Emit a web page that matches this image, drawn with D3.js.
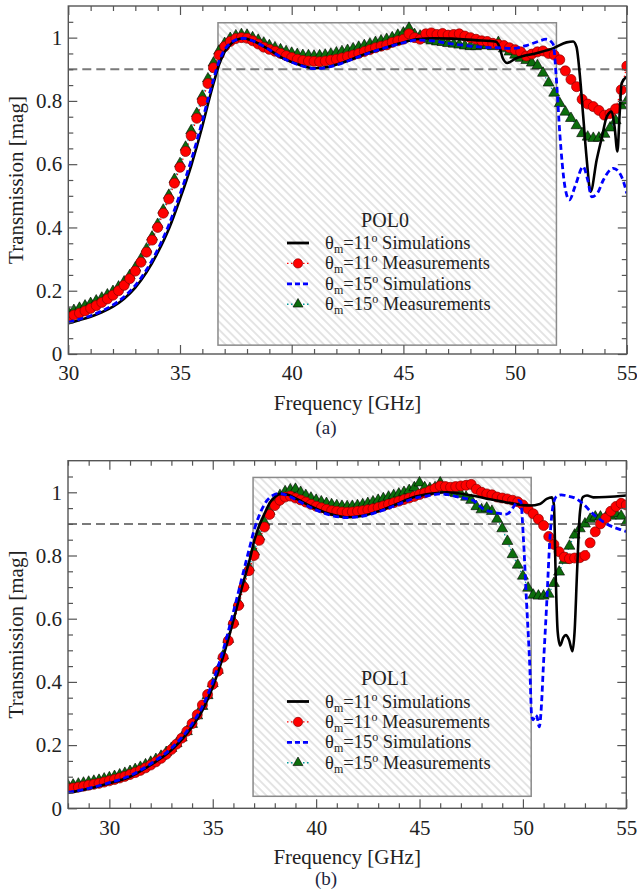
<!DOCTYPE html>
<html>
<head>
<meta charset="utf-8">
<script src="https://cdn.jsdelivr.net/npm/d3@7"></script>
<style>
  body { margin: 0; background: #fff; }
  svg { display: block; }
</style>
</head>
<body>
<svg id="chart"></svg>
<script>
// ---- data ----
const legendAngles = ['11', '11', '15', '15'];
const legendKinds = ['Simulations', 'Measurements', 'Simulations', 'Measurements'];
const yMajorTicks = [0, 0.2, 0.4, 0.6, 0.8, 1];
const threshold = 0.9;

// (a) POL0
const xTicksA = [30, 35, 40, 45, 50, 55];
const passbandA = [36.7, 51.85];
const bandLevelsA = [0.028, 1.047];

const simFreqA11 = [30, 30.5, 31, 31.5, 32, 32.5, 33, 33.5, 34, 34.5, 35, 35.5, 36, 36.25, 36.5,
  36.75, 37, 37.25, 37.5, 37.85, 38.25, 38.9, 39.6, 40.4, 41, 41.6, 42.2, 42.8, 43.4, 44.1,
  44.85, 45.6, 46.35, 47.2, 48.2, 49.15, 49.3, 49.45, 49.65, 50.05, 50.95, 51.7, 52.3, 52.6, 52.75,
  52.9, 53.05, 53.2, 53.38, 53.65, 53.9, 54.1, 54.32, 54.45, 54.58, 54.68, 54.77, 55];
const simA11 = [0.097, 0.107, 0.118, 0.132, 0.15, 0.175, 0.21, 0.258, 0.32, 0.395, 0.49, 0.595, 0.72, 0.79, 0.855,
  0.915, 0.955, 0.978, 0.992, 0.998, 0.99, 0.966, 0.935, 0.913, 0.903, 0.907, 0.919, 0.935, 0.951, 0.966,
  0.982, 0.995, 0.998, 0.997, 0.992, 0.987, 0.97, 0.935, 0.92, 0.935, 0.951, 0.966, 0.985, 0.988, 0.97,
  0.88, 0.75, 0.62, 0.513, 0.613, 0.69, 0.75, 0.766, 0.72, 0.64, 0.76, 0.856, 0.877];

const simFreqA15 = [30, 30.5, 31, 31.5, 32, 32.5, 33, 33.5, 34, 34.5, 35, 35.5, 36, 36.25, 36.5,
  36.75, 37, 37.25, 37.5, 37.85, 38.25, 38.9, 39.6, 40.4, 41, 41.6, 42.2, 42.8, 43.4, 44.1,
  44.85, 45.6, 46.3, 47, 47.8, 48.5, 49.2, 49.9, 50.5, 51, 51.4, 51.7, 51.86, 52.0, 52.23,
  52.43, 52.68, 53.05, 53.25, 53.43, 53.7, 53.95, 54.4, 54.77, 55];
const simA15 = [0.1, 0.11, 0.121, 0.136, 0.155, 0.181, 0.217, 0.266, 0.33, 0.408, 0.505, 0.612, 0.737, 0.805, 0.868,
  0.925, 0.962, 0.982, 0.993, 0.998, 0.99, 0.966, 0.935, 0.912, 0.902, 0.906, 0.918, 0.934, 0.95, 0.966,
  0.981, 0.992, 0.99, 0.982, 0.975, 0.97, 0.968, 0.966, 0.975, 0.987, 0.995, 0.98, 0.856, 0.698, 0.529,
  0.487, 0.529, 0.592, 0.55, 0.497, 0.51, 0.55, 0.587, 0.56, 0.508];

// measurements every 0.25 GHz, one row per GHz
const measStep = 0.25;
const measA11 = [
  0.117, 0.123, 0.129, 0.136,  0.144, 0.153, 0.163, 0.174,  0.186, 0.200, 0.217, 0.238,
  0.262, 0.290, 0.322, 0.360,  0.400, 0.445, 0.490, 0.540,  0.590, 0.640, 0.690, 0.745,
  0.800, 0.855, 0.905, 0.945,  0.972, 0.988, 0.997, 1.000,  0.998, 0.990, 0.980, 0.970,
  0.963, 0.957, 0.950, 0.943,  0.937, 0.932, 0.928, 0.926,  0.925, 0.924, 0.926, 0.929,
  0.932, 0.936, 0.940, 0.945,  0.950, 0.956, 0.962, 0.968,  0.973, 0.977, 0.985, 0.990,
  0.995, 1.012, 1.000, 0.995,  1.012, 1.015, 1.010, 1.013,  1.008, 1.010, 1.012, 1.005,
  1.000, 0.995, 0.990, 0.988,  0.982, 0.978, 0.975, 0.968,  0.962, 0.955, 0.942, 0.948,
  0.955, 0.958, 0.950, 0.945,  0.930, 0.895, 0.868, 0.845,  0.805, 0.790, 0.782, 0.770,
  0.755, 0.760, 0.775, 0.835,  0.910];
const measA15 = [
  0.132, 0.138, 0.145, 0.152,  0.160, 0.168, 0.177, 0.187,  0.198, 0.212, 0.228, 0.248,
  0.272, 0.300, 0.332, 0.370,  0.410, 0.455, 0.502, 0.552,  0.602, 0.654, 0.706, 0.760,
  0.815, 0.870, 0.920, 0.958,  0.982, 0.998, 1.006, 1.010,  1.008, 1.000, 0.992, 0.983,
  0.975, 0.968, 0.962, 0.956,  0.951, 0.947, 0.944, 0.943,  0.942, 0.943, 0.945, 0.948,
  0.952, 0.956, 0.960, 0.965,  0.970, 0.975, 0.980, 0.985,  0.990, 0.995, 1.000, 1.008,
  1.015, 1.030, 1.010, 1.005,  0.995, 0.990, 0.987, 0.985,  0.982, 0.980, 0.977, 0.974,
  0.972, 0.972, 0.975, 0.975,  0.972, 0.985, 0.965, 0.955,  0.945, 0.935, 0.928, 0.920,
  0.912, 0.888, 0.857, 0.825,  0.792, 0.765, 0.745, 0.722,  0.697, 0.686, 0.682, 0.683,
  0.695, 0.715, 0.738, 0.785,  0.800];

// (b) POL1
const xTicksB = [30, 35, 40, 45, 50, 55];
const passbandB = [36.95, 50.4];
const bandLevelsB = [0.038, 1.047];

const simFreqB11 = [28, 29, 30, 31, 32, 33, 34, 34.5, 35, 35.5, 36, 36.5, 36.8, 37, 37.25,
  37.5, 37.77, 38, 38.25, 38.6, 39.06, 39.86, 40.67, 41.48, 42.28, 43.09, 43.9, 44.7, 45.5, 46.3,
  47.6, 48.4, 49.21, 50.34, 50.82, 51.15, 51.4, 51.5, 51.58, 51.68, 51.8, 51.95, 52.08, 52.22, 52.4,
  52.5, 52.62, 52.75, 52.9, 53.1, 53.4, 54, 54.86, 55];
const simB11 = [0.049, 0.062, 0.079, 0.1, 0.137, 0.184, 0.258, 0.31, 0.384, 0.479, 0.595, 0.72, 0.79, 0.845, 0.895,
  0.932, 0.968, 0.985, 0.995, 0.993, 0.979, 0.952, 0.931, 0.921, 0.926, 0.942, 0.963, 0.984, 0.995, 1.0,
  0.989, 0.978, 0.968, 0.958, 0.963, 0.979, 0.984, 0.96, 0.75, 0.56, 0.515, 0.54, 0.548, 0.535, 0.497,
  0.56, 0.75, 0.93, 0.985, 0.99, 0.984, 0.985, 0.989, 0.99];

const simFreqB15 = [28, 29, 30, 31, 32, 33, 34, 34.5, 35, 35.5, 36, 36.5, 36.8, 37, 37.3,
  37.6, 37.9, 38.2, 38.6, 39.06, 39.86, 40.67, 41.48, 42.28, 43.09, 43.9, 44.7, 45.5, 46, 46.96,
  47.6, 48.08, 48.57, 49.21, 49.53, 49.78, 49.9, 50.02, 50.18, 50.34, 50.42, 50.5, 50.6, 50.68, 50.79,
  50.9, 50.98, 51.15, 51.31, 51.45, 51.6, 51.85, 52.11, 52.6, 52.92, 53.4, 54.05, 54.86, 55];
const simB15 = [0.05, 0.063, 0.081, 0.103, 0.141, 0.19, 0.267, 0.322, 0.4, 0.5, 0.622, 0.752, 0.83, 0.88, 0.935,
  0.972, 0.99, 0.996, 0.99, 0.975, 0.948, 0.928, 0.92, 0.925, 0.94, 0.96, 0.98, 0.99, 0.995, 0.984,
  0.974, 0.947, 0.937, 0.931, 0.952, 0.974, 0.97, 0.858, 0.647, 0.437, 0.295, 0.28, 0.295, 0.29, 0.258,
  0.33, 0.437, 0.647, 0.858, 0.955, 0.985, 0.992, 0.989, 0.979, 0.963, 0.931, 0.9, 0.879, 0.876];

const measB11 = [
  0.062, 0.064, 0.067, 0.070,  0.073, 0.076, 0.079, 0.083,  0.087, 0.091, 0.096, 0.101,
  0.107, 0.113, 0.120, 0.128,  0.137, 0.147, 0.158, 0.171,  0.186, 0.203, 0.222, 0.244,
  0.268, 0.296, 0.327, 0.360,  0.392, 0.434, 0.478, 0.530,  0.585, 0.642, 0.700, 0.752,
  0.800, 0.848, 0.890, 0.930,  0.958, 0.975, 0.985, 0.988,  0.982, 0.976, 0.969, 0.962,
  0.956, 0.951, 0.946, 0.942,  0.940, 0.938, 0.937, 0.938,  0.940, 0.942, 0.945, 0.948,
  0.952, 0.957, 0.962, 0.967,  0.972, 0.977, 0.982, 0.987,  0.993, 0.998, 1.005, 1.012,
  1.020, 1.018, 1.016, 1.018,  1.020, 1.022, 1.025, 1.010,  1.000, 0.995, 0.992, 0.985,
  0.982, 0.979, 0.975, 0.970,  0.960, 0.947, 0.932, 0.915,  0.895, 0.860, 0.835, 0.812,
  0.795, 0.790, 0.792, 0.793,  0.800, 0.840, 0.875, 0.900,  0.918, 0.940, 0.955, 0.965,
  0.960];
const measB15 = [
  0.072, 0.074, 0.077, 0.080,  0.083, 0.086, 0.089, 0.093,  0.097, 0.101, 0.106, 0.111,
  0.117, 0.123, 0.130, 0.138,  0.146, 0.155, 0.165, 0.177,  0.190, 0.205, 0.223, 0.243,
  0.266, 0.293, 0.323, 0.357,  0.395, 0.437, 0.483, 0.535,  0.592, 0.650, 0.708, 0.762,
  0.812, 0.860, 0.905, 0.940,  0.968, 0.990, 1.002, 1.008,  1.010, 1.000, 0.990, 0.982,
  0.975, 0.970, 0.965, 0.961,  0.958, 0.956, 0.955, 0.956,  0.958, 0.961, 0.965, 0.970,
  0.975, 0.980, 0.985, 0.990,  0.995, 1.000, 1.006, 1.015,  1.030, 1.015, 1.012, 1.015,
  1.030, 1.010, 1.000, 0.997,  0.994, 0.985, 0.975, 0.955,  0.945, 0.950, 0.940, 0.915,
  0.885, 0.845, 0.803, 0.770,  0.735, 0.697, 0.675, 0.672,  0.672, 0.678, 0.712, 0.748,
  0.785, 0.830, 0.865, 0.885,  0.900, 0.915, 0.922, 0.922,  0.920, 0.925, 0.932, 0.925,
  0.905];

// ---- drawing ----
const width = 637, height = 894;
const serif = '"Liberation Serif", serif';
const svg = d3.select('#chart').attr('width', width).attr('height', height);
svg.append('rect').attr('width', width).attr('height', height).attr('fill', '#fff');

const defs = svg.append('defs');
const hatch = defs.append('pattern')
  .attr('id', 'hatch')
  .attr('patternUnits', 'userSpaceOnUse')
  .attr('width', 5.8).attr('height', 5.8)
  .attr('patternTransform', 'rotate(-45)');
hatch.append('line')
  .attr('x1', 2.9).attr('y1', 0).attr('x2', 2.9).attr('y2', 5.8)
  .attr('stroke', '#c4c4c4').attr('stroke-width', 0.9);

const colors = { sim11: '#000', meas11: '#ff0000', sim15: '#0000ff', meas15: '#0c6e0c' };

function measPoints(start, values) {
  return values.map((v, i) => ({ f: start + i * measStep, t: v }));
}
function simPoints(freqs, values) {
  return freqs.map((f, i) => ({ f: f, t: values[i] }));
}

const panels = [
  {
    id: 'a', pol: 'POL0', caption: '(a)',
    left: 68.3, right: 626.8, top: 6, bottom: 354,
    xStart: 30, xTicks: xTicksA, band: passbandA, bandLevels: bandLevelsA,
    sim11: simPoints(simFreqA11, simA11), sim15: simPoints(simFreqA15, simA15),
    meas11: measPoints(30, measA11), meas15: measPoints(30, measA15),
    legendTop: 243, captionY: 434
  },
  {
    id: 'b', pol: 'POL1', caption: '(b)',
    left: 68, right: 626.3, top: 460.7, bottom: 808.3,
    xStart: 28, xTicks: xTicksB, band: passbandB, bandLevels: bandLevelsB,
    sim11: simPoints(simFreqB11, simB11), sim15: simPoints(simFreqB15, simB15),
    meas11: measPoints(28, measB11), meas15: measPoints(28, measB15),
    legendTop: 701.5, captionY: 885
  }
];

panels.forEach(drawPanel);

// make every label serif (inline style wins over the axis defaults)
svg.selectAll('text').style('font-family', serif);

function drawPanel(p) {
  const x = d3.scaleLinear().domain([p.xStart, 55]).range([p.left, p.right]);
  const y = d3.scaleLinear().domain([0, 1.1]).range([p.bottom, p.top]);
  const g = svg.append('g');

  defs.append('clipPath').attr('id', 'clip-' + p.id)
    .append('rect')
    .attr('x', p.left).attr('y', p.top)
    .attr('width', p.right - p.left).attr('height', p.bottom - p.top);

  // hatched passband
  g.append('rect')
    .attr('x', x(p.band[0])).attr('y', y(p.bandLevels[1]))
    .attr('width', x(p.band[1]) - x(p.band[0]))
    .attr('height', y(p.bandLevels[0]) - y(p.bandLevels[1]))
    .attr('fill', 'url(#hatch)')
    .attr('stroke', '#8a8a8a').attr('stroke-width', 1.5);

  // 0.9 threshold
  g.append('line')
    .attr('x1', x(p.xStart)).attr('x2', x(55))
    .attr('y1', y(threshold)).attr('y2', y(threshold))
    .attr('stroke', '#7a7a7a').attr('stroke-width', 2)
    .attr('stroke-dasharray', '9,5');

  const data = g.append('g').attr('clip-path', 'url(#clip-' + p.id + ')');
  const line = d3.line().x(d => x(d.f)).y(d => y(d.t));
  const smooth = d3.line().x(d => x(d.f)).y(d => y(d.t)).curve(d3.curveMonotoneX);

  // measurement connectors
  data.append('path').datum(p.meas15).attr('d', line)
    .attr('fill', 'none').attr('stroke', '#009a9a').attr('stroke-width', 1.2).attr('stroke-dasharray', '1.5,2.5');
  data.append('path').datum(p.meas11).attr('d', line)
    .attr('fill', 'none').attr('stroke', colors.meas11).attr('stroke-width', 1.2).attr('stroke-dasharray', '1.5,2.5');

  // markers
  const tri = d3.symbol().type(d3.symbolTriangle).size(52);
  data.selectAll('.tri').data(p.meas15).enter().append('path')
    .attr('class', 'tri')
    .attr('transform', d => `translate(${x(d.f)},${y(d.t)})`)
    .attr('d', tri)
    .attr('fill', colors.meas15).attr('stroke', '#000').attr('stroke-width', 0.6);
  data.selectAll('.dot').data(p.meas11).enter().append('circle')
    .attr('class', 'dot')
    .attr('cx', d => x(d.f)).attr('cy', d => y(d.t)).attr('r', 5)
    .attr('fill', colors.meas11).attr('stroke', '#8a0000').attr('stroke-width', 0.7);

  // simulations
  data.append('path').datum(p.sim11).attr('d', smooth)
    .attr('fill', 'none').attr('stroke', colors.sim11).attr('stroke-width', 2.6);
  data.append('path').datum(p.sim15).attr('d', smooth)
    .attr('fill', 'none').attr('stroke', colors.sim15).attr('stroke-width', 2.8)
    .attr('stroke-dasharray', '6,3.5');

  // axes with inward ticks on all sides
  const xMinor = d3.range(p.xStart, 55.001, 1).filter(v => v % 5 !== 0);
  const yMinor = d3.range(1, 22).filter(i => i % 4 !== 0).map(i => i * 0.05);
  const fmt = d3.format('~g');

  function axis(gen, tx, ty) {
    const a = g.append('g').attr('transform', `translate(${tx},${ty})`).attr('color', '#555').call(gen);
    a.select('.domain').remove();
    a.selectAll('line').attr('stroke-width', 1.2);
    return a;
  }
  const xb = axis(d3.axisBottom(x).tickValues(p.xTicks).tickSize(-9).tickPadding(11.5).tickFormat(fmt), 0, p.bottom);
  axis(d3.axisBottom(x).tickValues(xMinor).tickSize(-5).tickFormat(''), 0, p.bottom);
  axis(d3.axisTop(x).tickValues(p.xTicks).tickSize(-9).tickFormat(''), 0, p.top);
  axis(d3.axisTop(x).tickValues(xMinor).tickSize(-5).tickFormat(''), 0, p.top);
  const yl = axis(d3.axisLeft(y).tickValues(yMajorTicks).tickSize(-9).tickPadding(6).tickFormat(fmt), p.left, 0);
  axis(d3.axisLeft(y).tickValues(yMinor).tickSize(-5).tickFormat(''), p.left, 0);
  axis(d3.axisRight(y).tickValues(yMajorTicks).tickSize(-9).tickFormat(''), p.right, 0);
  axis(d3.axisRight(y).tickValues(yMinor).tickSize(-5).tickFormat(''), p.right, 0);
  [xb, yl].forEach(a => a.selectAll('text')
    .attr('font-size', 21)
    .attr('fill', '#222'));

  // frame
  g.append('rect')
    .attr('x', p.left).attr('y', p.top)
    .attr('width', p.right - p.left).attr('height', p.bottom - p.top)
    .attr('fill', 'none').attr('stroke', '#555').attr('stroke-width', 1.4);

  // titles
  g.append('text')
    .attr('x', (p.left + p.right) / 2).attr('y', p.bottom + 56)
    .attr('text-anchor', 'middle').attr('font-size', 21).attr('fill', '#222')
    .text('Frequency [GHz]');
  g.append('text')
    .attr('transform', `translate(23,${(p.top + p.bottom) / 2}) rotate(-90)`)
    .attr('text-anchor', 'middle').attr('font-size', 21).attr('fill', '#222')
    .text('Transmission [mag]');
  g.append('text')
    .attr('x', 326).attr('y', p.captionY)
    .attr('text-anchor', 'middle').attr('font-size', 19).attr('fill', '#1c2540')
    .text(p.caption);

  // legend
  const leg = g.append('g');
  leg.append('text')
    .attr('x', 385).attr('y', p.legendTop - 16.5)
    .attr('text-anchor', 'middle').attr('font-size', 20).attr('fill', '#222')
    .text(p.pol);

  const styles = [
    { stroke: colors.sim11, width: 2.8, dash: null, marker: null },
    { stroke: colors.meas11, width: 1.4, dash: '1.5,2.5', marker: 'circle' },
    { stroke: colors.sim15, width: 2.8, dash: '5,3', marker: null },
    { stroke: '#009a9a', width: 1.4, dash: '1.5,2.5', marker: 'triangle' }
  ];
  legendAngles.forEach((ang, i) => {
    const cy = p.legendTop + i * 20.4;
    const s = styles[i];
    leg.append('line')
      .attr('x1', 287).attr('x2', 309).attr('y1', cy).attr('y2', cy)
      .attr('stroke', s.stroke).attr('stroke-width', s.width)
      .attr('stroke-dasharray', s.dash);
    if (s.marker === 'circle') {
      leg.append('circle').attr('cx', 298).attr('cy', cy).attr('r', 4.6)
        .attr('fill', colors.meas11).attr('stroke', '#8a0000').attr('stroke-width', 0.7);
    } else if (s.marker === 'triangle') {
      leg.append('path').attr('transform', `translate(298,${cy})`).attr('d', d3.symbol().type(d3.symbolTriangle).size(42))
        .attr('fill', colors.meas15).attr('stroke', '#000').attr('stroke-width', 0.6);
    }
    const t = leg.append('text').attr('x', 325).attr('y', cy + 6).attr('font-size', 18.5).attr('fill', '#222');
    t.append('tspan').text('θ');
    t.append('tspan').attr('font-size', 12).attr('dy', 4).text('m');
    t.append('tspan').attr('dy', -4).text('=' + ang);
    t.append('tspan').attr('font-size', 12).attr('dy', -7).text('o');
    t.append('tspan').attr('dy', 7).text(' ' + legendKinds[i]);
  });
}
</script>
</body>
</html>
